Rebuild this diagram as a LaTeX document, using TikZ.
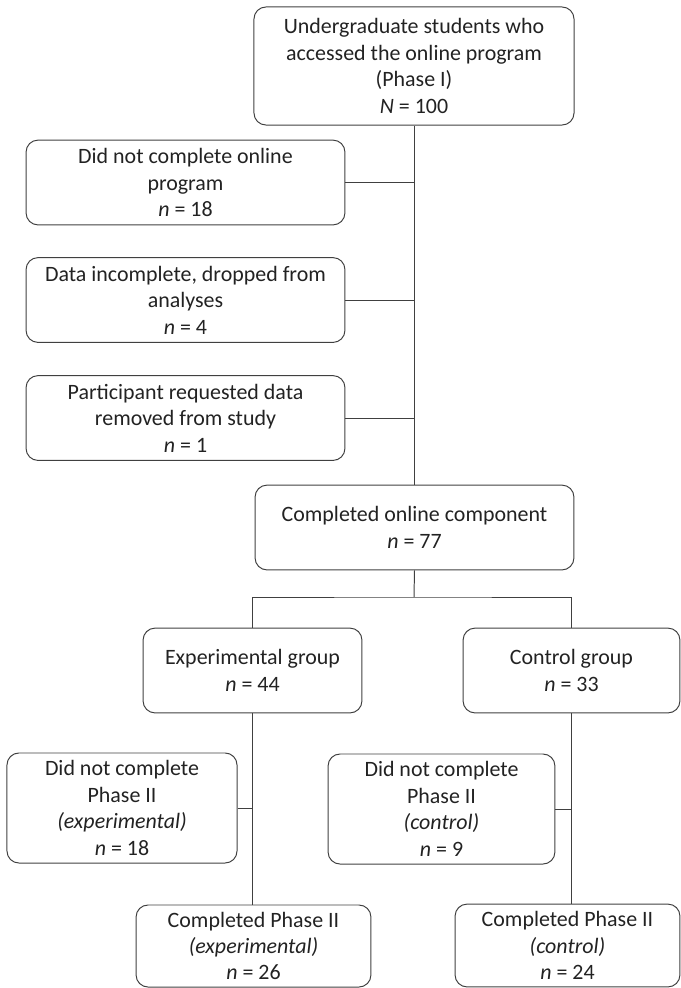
\documentclass[tikz,border=0pt]{standalone}
\usepackage{fontspec}
\setmainfont{Carlito}
\usetikzlibrary{positioning,calc}
\definecolor{boxline}{HTML}{404040}
\definecolor{boxtext}{HTML}{222222}
\tikzstyle{box} = [rectangle, rounded corners=0.3cm, draw=boxline, line width=0.7pt, text=boxtext, align=center, inner sep=0pt, font=\fontsize{15.6}{18.8}\selectfont]
\tikzstyle{wide} = [box, minimum width=7.97cm, minimum height=2.12cm]
\tikzstyle{link} = [draw=boxline, line width=0.7pt]
\begin{document}
\begin{tikzpicture}[x=0.025cm,y=-0.025cm]
	\useasboundingbox (0,0) rectangle (680,988);
	\node (start) at (414,66) [box, minimum width=8cm, minimum height=2.95cm] {Undergraduate students who\\accessed the online program\\(Phase I)\\\textit{N} = 100};
	\node (drop1) at (185.5,182.5) [wide] {Did not complete online\\program\\\textit{n} = 18};
	\node (drop2) at (185.5,300) [wide] {Data incomplete, dropped from\\analyses\\\textit{n} = 4};
	\node (drop3) at (185.5,418) [wide] {Participant requested data\\removed from study\\\textit{n} = 1};
	\node (online) at (414.5,527.5) [wide] {Completed online component\\\textit{n} = 77};
	\node (exp) at (252.5,670.5) [box, minimum width=5.47cm, minimum height=2.12cm] {Experimental group\\\textit{n} = 44};
	\node (ctrl) at (571.5,670.5) [box, minimum width=5.42cm, minimum height=2.12cm] {Control group\\\textit{n} = 33};
	\node (expdrop) at (122,808) [box, minimum width=5.75cm, minimum height=2.75cm] {Did not complete\\Phase II\\\textit{(experimental)}\\\textit{n} = 18};
	\node (ctrldrop) at (441.5,809) [box, minimum width=5.67cm, minimum height=2.75cm] {Did not complete\\Phase II\\\textit{(control)}\\\textit{n} = 9};
	\node (expdone) at (253.5,946) [box, minimum width=5.87cm, minimum height=2.05cm] {Completed Phase II\\\textit{(experimental)}\\\textit{n} = 26};
	\node (ctrldone) at (567.5,945.5) [box, minimum width=5.62cm, minimum height=2.07cm] {Completed Phase II\\\textit{(control)}\\\textit{n} = 24};
	\coordinate (split) at (414,597);
	\draw[link] (start.south) -- (start.south |- online.north);
	\draw[link] (drop1.east) -- (drop1.east -| start.south);
	\draw[link] (drop2.east) -- (drop2.east -| start.south);
	\draw[link] (drop3.east) -- (drop3.east -| start.south);
	\draw[link] (online.south) -- (split);
	\draw[link] (exp.north) |- (split) -| (ctrl.north);
	\draw[link] (exp.south) -- (exp.south |- expdone.north);
	\draw[link] (ctrl.south) -- (ctrl.south |- ctrldone.north);
	\draw[link] (expdrop.east) -- (expdrop.east -| exp.south);
	\draw[link] (ctrldrop.east) -- (ctrldrop.east -| ctrl.south);
\end{tikzpicture}
\end{document}
